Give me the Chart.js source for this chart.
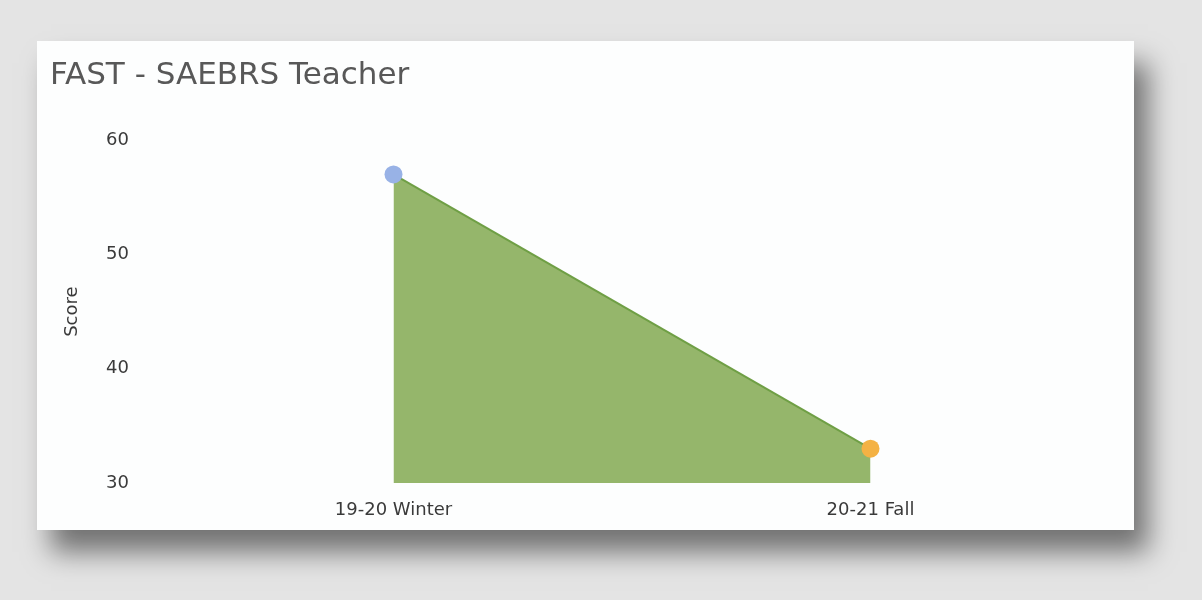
<!DOCTYPE html>
<html>
<head>
<meta charset="utf-8">
<script src="https://cdn.jsdelivr.net/npm/chart.js@4"></script>
<style>
    html, body { margin: 0; padding: 0; }
    body {
        width: 1202px;
        height: 600px;
        background: #e4e4e4;
        position: relative;
        overflow: hidden;
    }
    #card {
        position: absolute;
        left: 37px;
        top: 41px;
        width: 1097px;
        height: 489px;
        background: #fdfefe;
        box-shadow: 14px 22px 26px rgba(0, 0, 0, 0.5);
    }
</style>
</head>
<body>
<div id="card"><canvas id="chart" width="1097" height="489"></canvas></div>
<script>
// chart data
const periods = ['19-20 Winter', '20-21 Fall'];
const scores = [57, 33];
const pointColors = ['#98b2e6', '#f4b244'];
const yTicks = [30, 40, 50, 60];

const ctx = document.getElementById('chart').getContext('2d');

new Chart(ctx, {
    type: 'line',
    data: {
        labels: periods,
        datasets: [{
            label: 'Score',
            data: scores,
            borderColor: '#6f9f45',
            borderWidth: 2,
            backgroundColor: '#95b66b',
            fill: 'start',
            tension: 0,
            pointRadius: 9,
            pointBorderWidth: 0,
            pointBackgroundColor: pointColors,
            pointBorderColor: pointColors
        }]
    },
    options: {
        responsive: false,
        animation: false,
        layout: {
            padding: { left: 13, right: 25, top: 0, bottom: 0 }
        },
        plugins: {
            legend: { display: false },
            tooltip: { enabled: false },
            title: {
                display: true,
                text: 'FAST - SAEBRS Teacher',
                align: 'start',
                color: '#585858',
                font: { family: 'DejaVu Sans', size: 31, weight: 'normal' },
                padding: { top: 16, bottom: 46 }
            }
        },
        scales: {
            x: {
                offset: true,
                afterFit: (axis) => {
                    axis.height = 47;
                },
                grid: { display: false, drawTicks: false },
                border: { display: false },
                ticks: {
                    color: '#3a3a3a',
                    padding: 17,
                    font: { family: 'DejaVu Sans', size: 18 }
                }
            },
            y: {
                min: 30,
                max: 60,
                afterBuildTicks: (axis) => {
                    axis.ticks = yTicks.map(v => ({ value: v }));
                },
                afterFit: (axis) => {
                    axis.width = 105;
                },
                grid: { display: false, drawTicks: false },
                border: { display: false },
                title: {
                    display: true,
                    text: 'Score',
                    color: '#3a3a3a',
                    padding: { top: 12, bottom: 4 },
                    font: { family: 'DejaVu Sans', size: 18 }
                },
                ticks: {
                    color: '#3a3a3a',
                    padding: 26,
                    font: { family: 'DejaVu Sans', size: 18 }
                }
            }
        }
    }
});
</script>
</body>
</html>
